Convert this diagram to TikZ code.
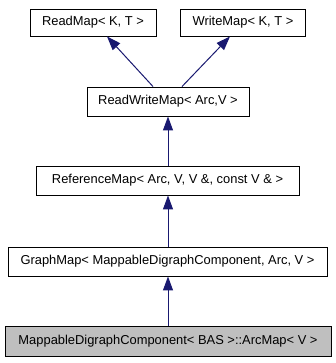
\documentclass[tikz,border=0pt]{standalone}
\usepackage{fontspec}
\setmainfont{Liberation Sans}
\usetikzlibrary{arrows.meta}
\definecolor{edgeblue}{HTML}{191970}
\definecolor{boxgray}{HTML}{BFBFBF}
\begin{document}
\begin{tikzpicture}[x=1pt,y=-1pt,
  cls/.style={draw=black, line width=0.9pt, fill=white, inner sep=0pt,
    minimum height=28pt, font=\fontsize{12.9}{15}\selectfont},
  current/.style={cls, fill=boxgray},
  inherit/.style={draw=edgeblue, line width=1pt,
    -{Triangle[length=14pt,width=10pt,fill=edgeblue]}}]
\useasboundingbox (0,0) rectangle (336,363);
% class boxes
\node[cls, minimum width=126pt, minimum height=27pt] (rm)  at (93,22.5)  {ReadMap< K, T >};
\node[cls, minimum width=125pt, minimum height=27pt] (wm)  at (243,22.5) {WriteMap< K, T >};
\node[cls, minimum width=162pt, minimum height=29pt] (rwm) at (168,101.5) {ReadWriteMap< Arc,V >};
\node[cls, minimum width=263pt, minimum height=29pt] (ref) at (167.5,180.5) {ReferenceMap< Arc, V, V \&, const V \& >};
\node[cls, minimum width=319pt, minimum height=29pt] (gm)  at (167.5,261.5) {GraphMap< MappableDigraphComponent, Arc, V >};
\node[current, minimum width=326pt, minimum height=30pt] (am) at (168,341) {MappableDigraphComponent< BAS >::ArcMap< V >};
% inheritance edges
\draw[inherit] ([xshift=-15pt]rwm.north) -- ([xshift=14pt]rm.south);
\draw[inherit] ([xshift=14pt]rwm.north) -- ([xshift=-13pt]wm.south);
\draw[inherit] (ref.north -| rwm.south) -- (rwm.south);
\draw[inherit] (gm.north -| rwm.south) -- (rwm.south |- ref.south);
\draw[inherit] (am.north -| rwm.south) -- (rwm.south |- gm.south);
\end{tikzpicture}
\end{document}
